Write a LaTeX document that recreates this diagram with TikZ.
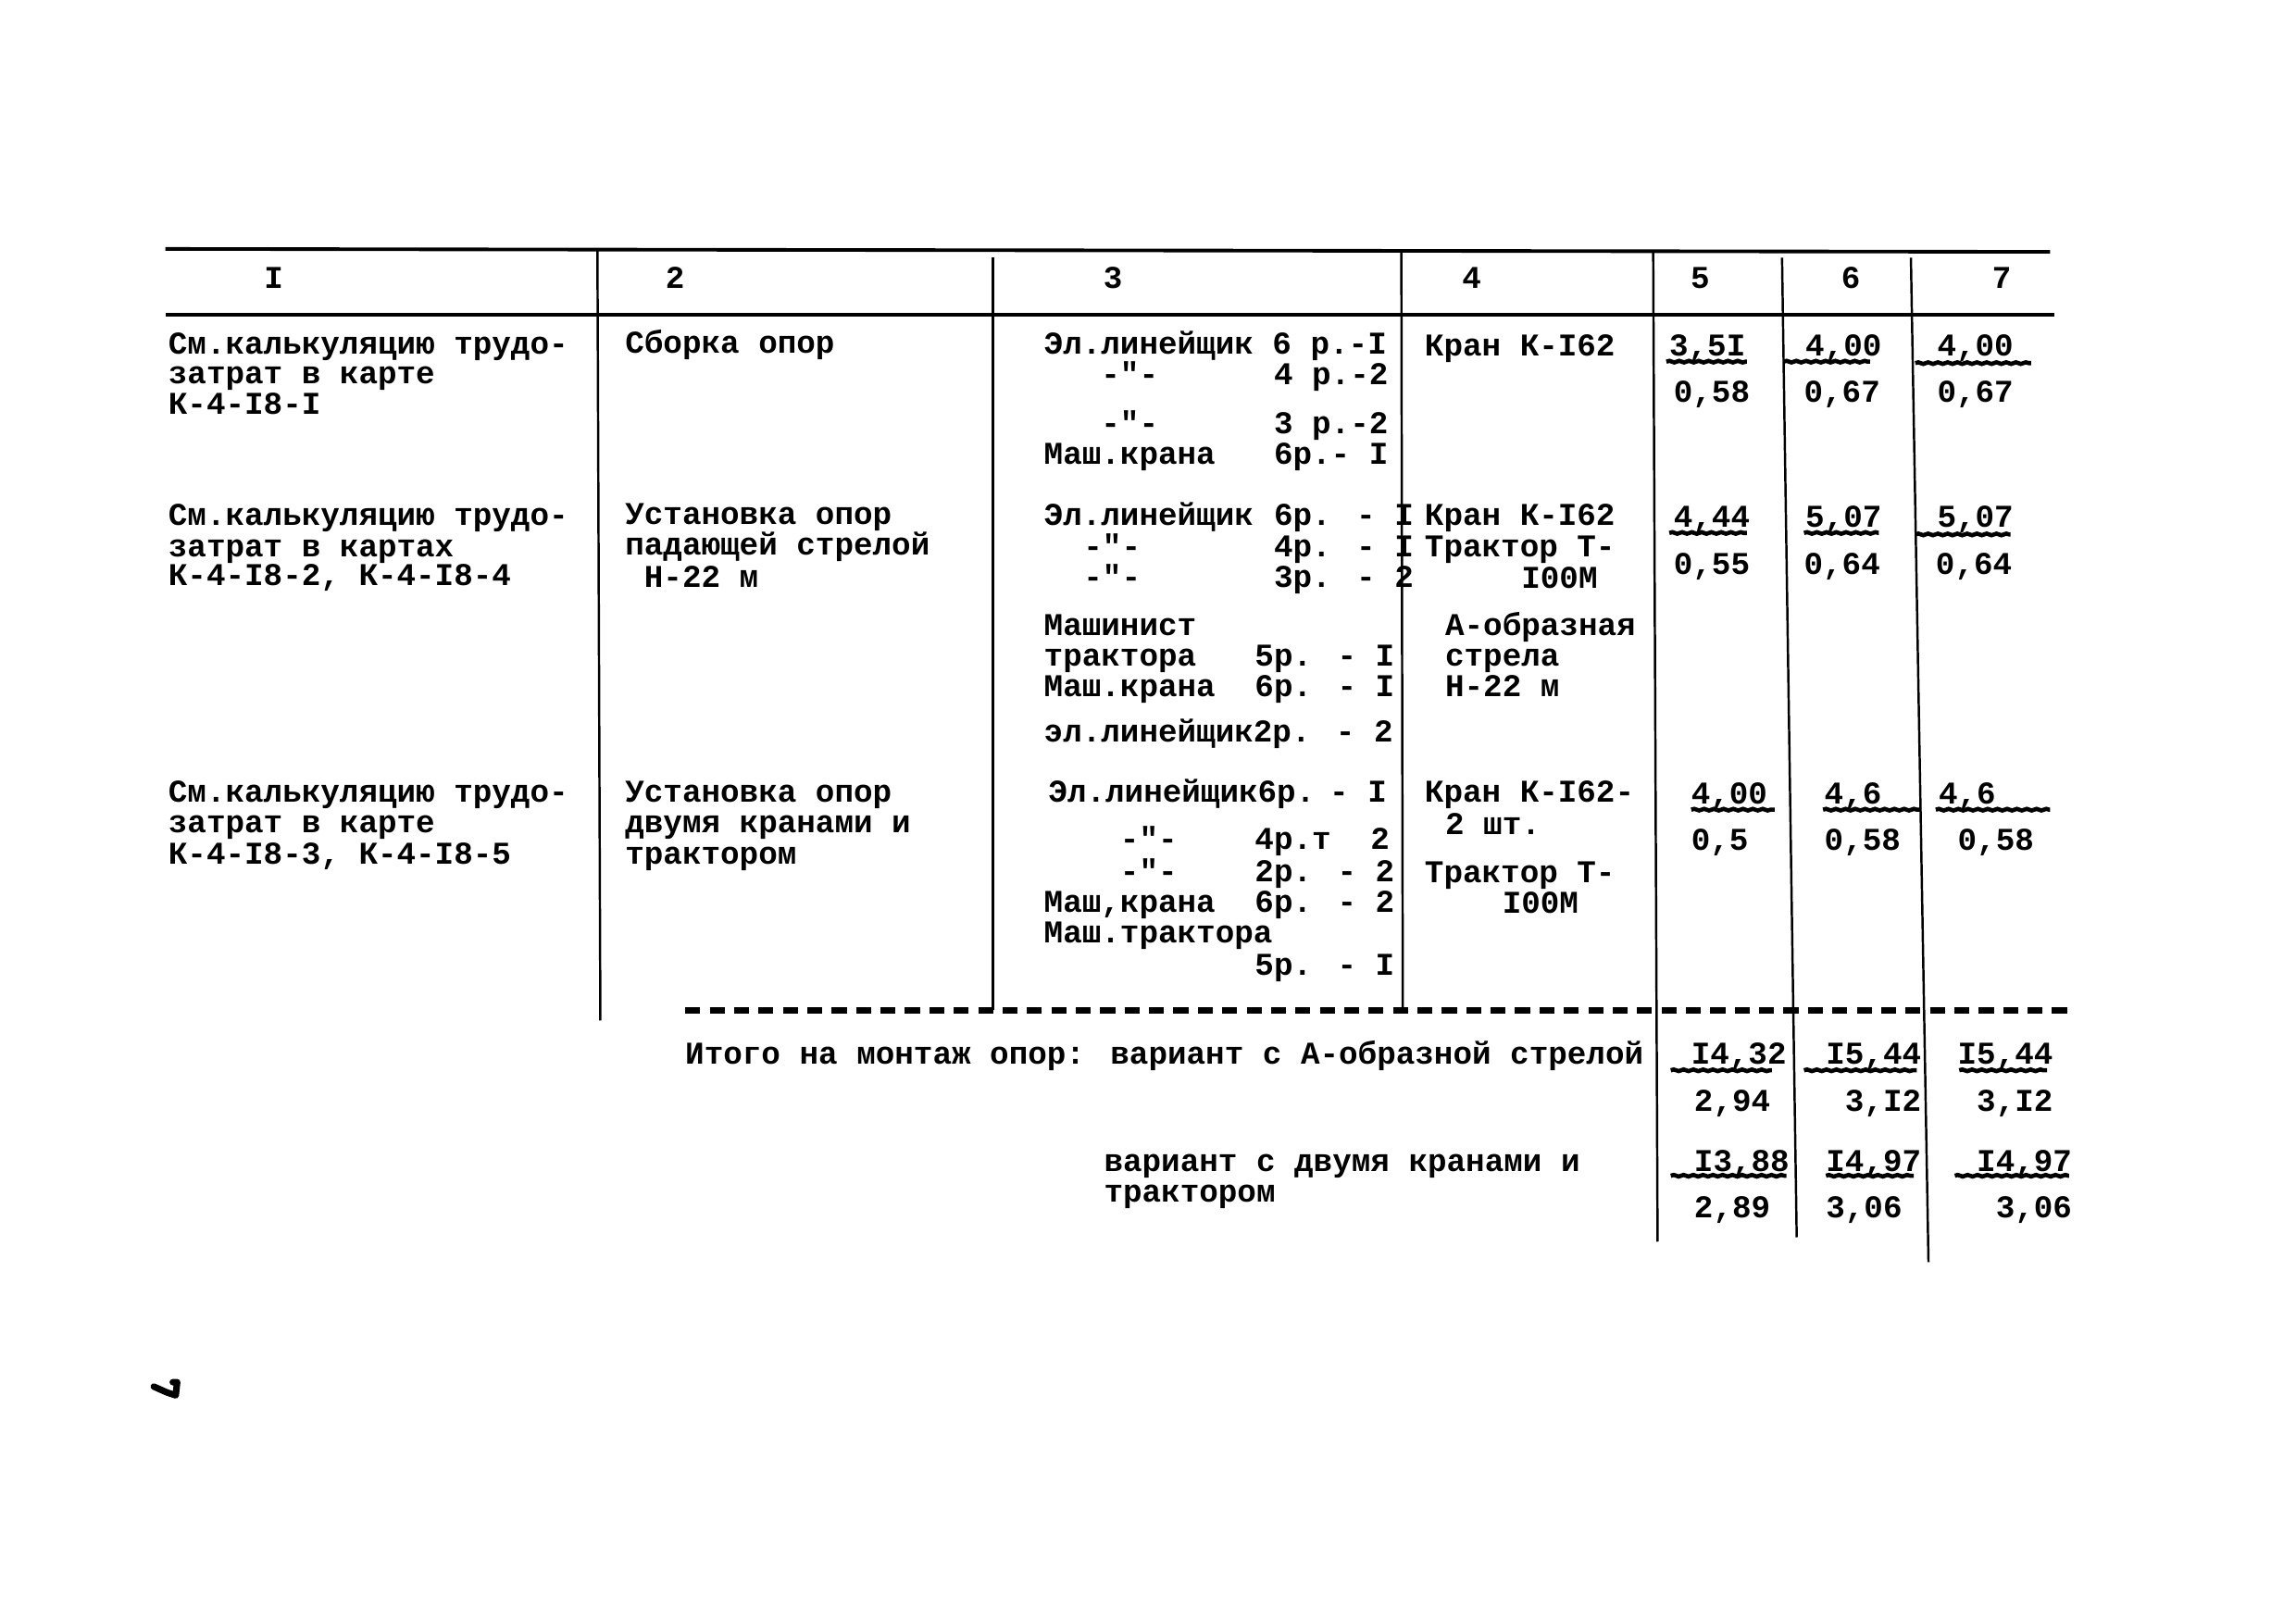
\documentclass[tikz,border=0pt]{standalone}
\usepackage{fontspec}
\newfontfamily\twf{Liberation Mono}
\usetikzlibrary{decorations.pathmorphing}
\tikzset{
  tx/.style={anchor=base west, inner sep=0pt, outer sep=0pt, font=\twf\bfseries\fontsize{9.75pt}{10pt}\selectfont},
  hd/.style={anchor=base, inner sep=0pt, outer sep=0pt, font=\twf\bfseries\fontsize{9.75pt}{10pt}\selectfont},
  rule/.style={line width=1.1pt},
  vline/.style={line width=0.7pt},
  uline/.style={line width=1.3pt, decorate, decoration={snake, amplitude=0.25pt, segment length=3pt}},
  dline/.style={line width=1.8pt, dash pattern=on 4.6pt off 2.9pt}
}
\newcommand\T[4]{\node[tx] (#1) at (#2,#3) {#4};}
\begin{document}
\begin{tikzpicture}[x=0.15816mm,y=-0.15816mm]
\useasboundingbox (0,0) rectangle (1568,1106);
% rules
\coordinate (r1a) at (113,170); \coordinate (r1b) at (1400,172);
\coordinate (r2a) at (113,215); \coordinate (r2b) at (1403,215);
\draw[rule] (r1a) -- (r1b);
\draw[line width=0.9pt] (r2a) -- (r2b);
% verticals
\coordinate (v1a) at (408,170); \coordinate (v1b) at (410,697);
\coordinate (v2a) at (678,176); \coordinate (v2b) at (678,690);
\coordinate (v3a) at (957,172); \coordinate (v3b) at (958,690);
\coordinate (v4a) at (1129,172); \coordinate (v4b) at (1132,848);
\coordinate (v5a) at (1217,176); \coordinate (v5b) at (1227,845);
\coordinate (v6a) at (1305,176); \coordinate (v6b) at (1317,862);
\foreach \i in {1,...,6}{\draw[vline] (v\i a) -- (v\i b);}
% dashed total line
\coordinate (da) at (468,690); \coordinate (db) at (1412,690);
\draw[dline] (da) -- (db);
% header
\node[hd] (h1) at (187,197) {I};
\node[hd] (h2) at (461,197) {2};
\node[hd] (h3) at (760,197) {3};
\node[hd] (h4) at (1005,197) {4};
\node[hd] (h5) at (1161,197) {5};
\node[hd] (h6) at (1264,197) {6};
\node[hd] (h7) at (1367,197) {7};
% ---- row 1
\T{a1}{115}{242}{См.калькуляцию трудо-}
\T{a2}{115}{262}{затрат в карте}
\T{a3}{115}{283}{К-4-I8-I}
\T{b1}{427}{241}{Сборка опор}
\T{c1}{713}{242}{Эл.линейщик 6 р.-I}
\T{c2}{752}{263}{-"-}
\T{c2r}{870}{263}{4 р.-2}
\T{c3}{752}{296}{-"-}
\T{c3r}{870}{296}{3 р.-2}
\T{c4}{713}{317}{Маш.крана}
\T{c4r}{870}{317}{6р.- I}
\T{d1}{973}{243}{Кран К-I62}
\T{e1}{1140}{243}{3,5I}
\T{e2}{1143}{275}{0,58}
\T{f1}{1233}{243}{4,00}
\T{f2}{1232}{275}{0,67}
\T{g1}{1323}{243}{4,00}
\T{g2}{1323}{275}{0,67}
% ---- row 2
\T{a4}{115}{359}{См.калькуляцию трудо-}
\T{a5}{115}{380}{затрат в картах}
\T{a6}{115}{400}{К-4-I8-2, К-4-I8-4}
\T{b2}{427}{358}{Установка опор}
\T{b3}{427}{379}{падающей стрелой}
\T{b4}{440}{401}{Н-22 м}
\T{c5}{713}{359}{Эл.линейщик}
\T{c5r}{870}{359}{6р. - I}
\T{c6}{740}{380}{-"-}
\T{c6r}{870}{380}{4р. - I}
\T{c7}{740}{401}{-"-}
\T{c7r}{870}{401}{3р. - 2}
\T{c8}{713}{434}{Машинист}
\T{c9}{713}{455}{трактора}
\T{c9r}{857}{455}{5р. - I}
\T{c10}{713}{476}{Маш.крана}
\T{c10r}{857}{476}{6р. - I}
\T{c11}{713}{507}{эл.линейщик2р. - 2}
\T{d2}{973}{359}{Кран К-I62}
\T{d3}{973}{380}{Трактор Т-}
\T{d4}{1039}{402}{I00М}
\T{d5}{987}{434}{А-образная}
\T{d6}{987}{455}{стрела}
\T{d7}{987}{476}{Н-22 м}
\T{e3}{1143}{360}{4,44}
\T{e4}{1143}{392}{0,55}
\T{f3}{1233}{360}{5,07}
\T{f4}{1232}{392}{0,64}
\T{g3}{1323}{360}{5,07}
\T{g4}{1322}{392}{0,64}
% ---- row 3
\T{a7}{115}{548}{См.калькуляцию трудо-}
\T{a8}{115}{569}{затрат в карте}
\T{a9}{115}{590}{К-4-I8-3, К-4-I8-5}
\T{b5}{427}{548}{Установка опор}
\T{b6}{427}{569}{двумя кранами и}
\T{b7}{427}{590}{трактором}
\T{c12}{716}{548}{Эл.линейщик6р.}
\T{c12r}{908}{548}{- I}
\T{c13}{765}{580}{-"-}
\T{c13r}{857}{580}{4р.т}
\T{c13s}{936}{580}{2}
\T{c14}{765}{602}{-"-}
\T{c14r}{857}{602}{2р. - 2}
\T{c15}{713}{623}{Маш,крана}
\T{c15r}{857}{623}{6р. - 2}
\T{c16}{713}{644}{Маш.трактора}
\T{c17}{857}{666}{5р. - I}
\T{d8}{973}{548}{Кран К-I62-}
\T{d9}{987}{570}{2 шт.}
\T{d10}{973}{603}{Трактор Т-}
\T{d11}{1026}{624}{I00М}
\T{e5}{1155}{549}{4,00}
\T{e6}{1155}{581}{0,5}
\T{f5}{1246}{549}{4,6}
\T{f6}{1246}{581}{0,58}
\T{g5}{1324}{549}{4,6}
\T{g6}{1337}{581}{0,58}
% ---- totals
\T{t1}{468}{727}{Итого на монтаж опор: вариант с А-образной стрелой}
\T{t2}{754}{800}{вариант с двумя кранами и}
\T{t3}{754}{821}{трактором}
\T{e7}{1155}{727}{I4,32}
\T{e8}{1157}{759}{2,94}
\T{f7}{1247}{727}{I5,44}
\T{f8}{1260}{759}{3,I2}
\T{g7}{1337}{727}{I5,44}
\T{g8}{1350}{759}{3,I2}
\T{e9}{1157}{800}{I3,88}
\T{e10}{1157}{832}{2,89}
\T{f9}{1247}{800}{I4,97}
\T{f10}{1247}{832}{3,06}
\T{g9}{1350}{800}{I4,97}
\T{g10}{1363}{832}{3,06}
% underlines
\foreach \xa/\xb/\yy in {1138/1193/247,1218/1277/247,1308/1387/248,
  1140/1193/364,1232/1283/364,1308/1373/365,
  1155/1212/553,1245/1312/553,1322/1400/553,
  1141/1210/731,1232/1309/731,1338/1398/731,
  1141/1220/803,1247/1307/803,1335/1413/803}
  {\draw[uline] (\xa,\yy) -- (\xb,\yy);}
% stray mark
\draw[line width=2pt, line cap=round, line join=round] (105,947) -- (114,951) -- (120,953) -- (121,944) -- (118,944);
\end{tikzpicture}
\end{document}
